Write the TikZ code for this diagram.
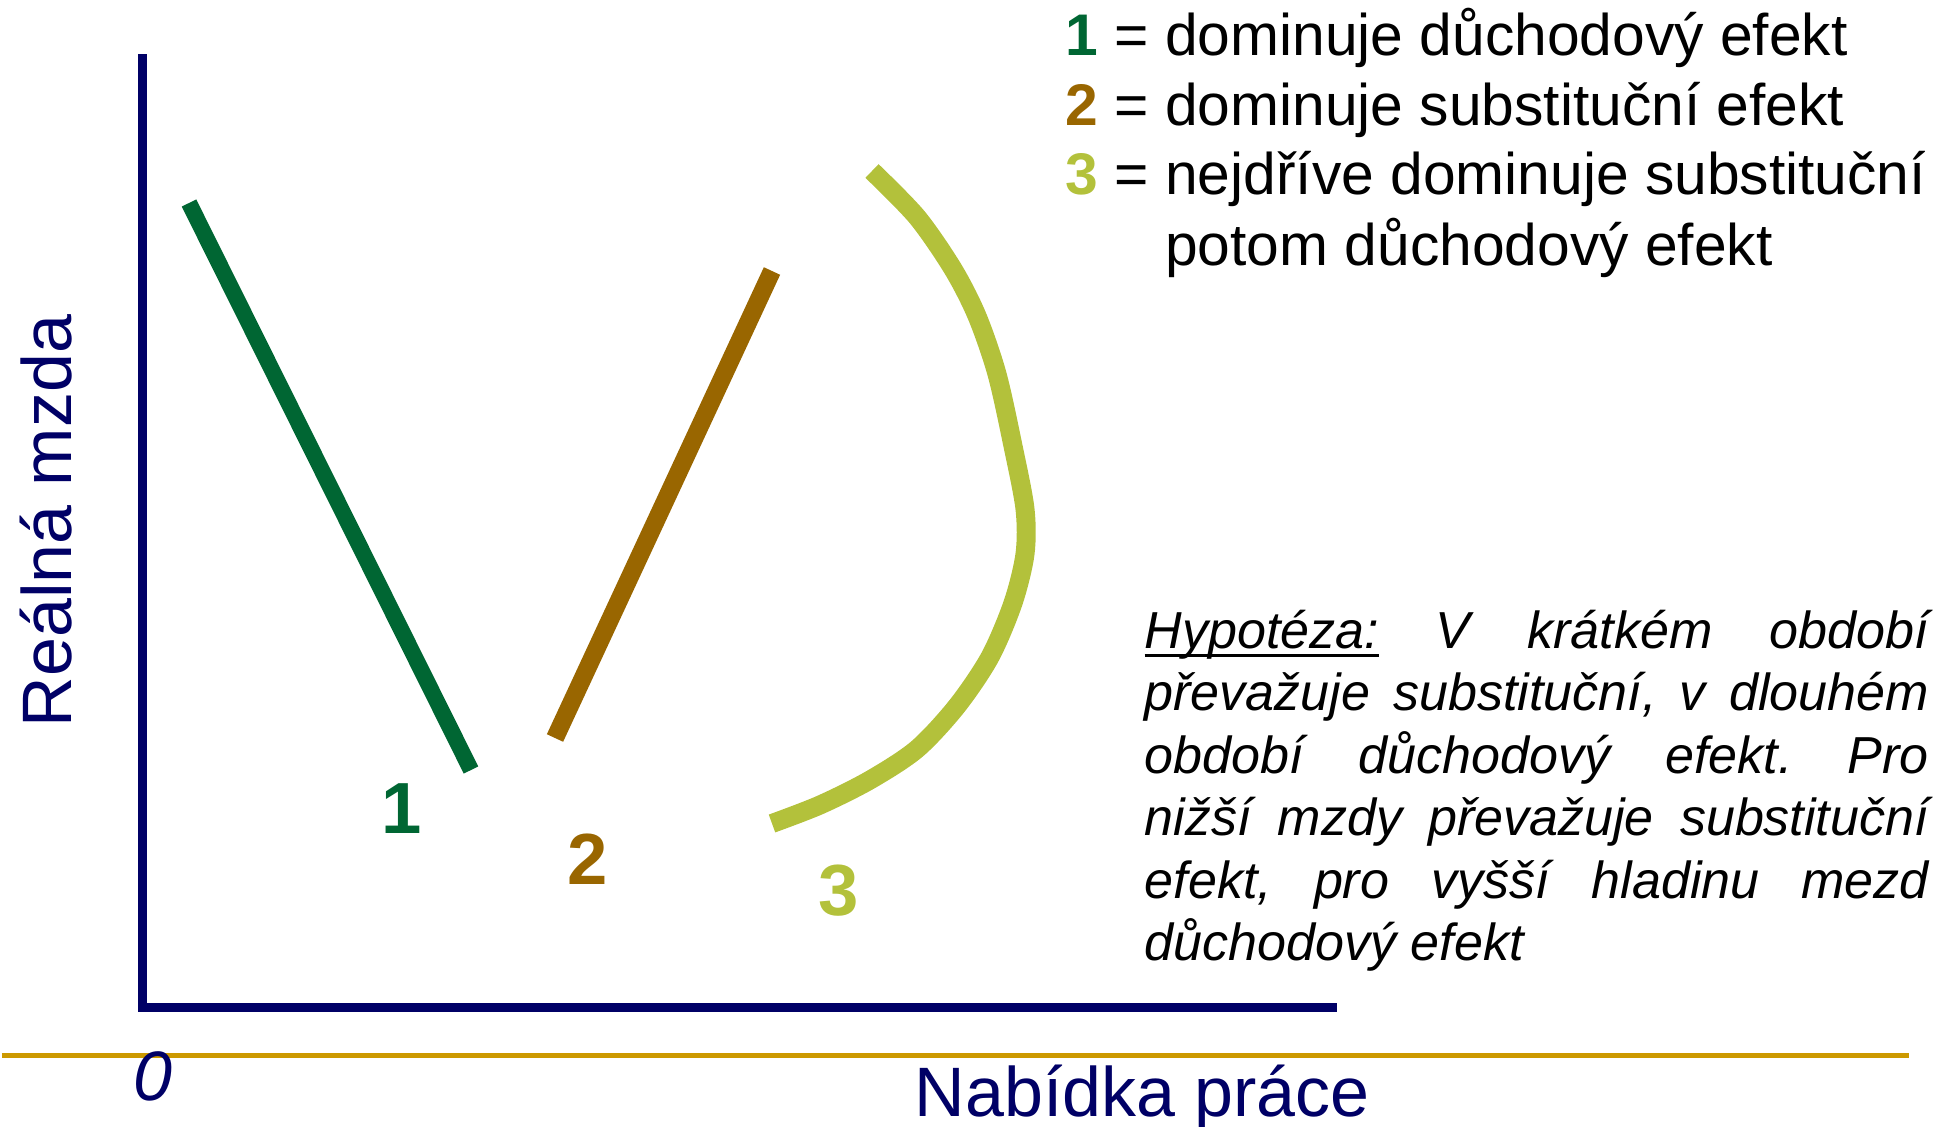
\documentclass[tikz,border=0pt]{standalone}
\usepackage{fontspec}
\setmainfont{Liberation Sans}
\definecolor{AxisNavy}{HTML}{000066}
\definecolor{IncomeGreen}{HTML}{006633}
\definecolor{SubstBrown}{HTML}{996600}
\definecolor{MixedLime}{HTML}{B3C13B}
\definecolor{RuleGold}{HTML}{CC9900}
\usepackage{tikz}
\usetikzlibrary{positioning}
\newcommand{\ulword}[1]{\leavevmode\setbox0\hbox{#1}\rlap{\rule[-2.6pt]{\wd0}{0.9pt}}\box0\relax}
\tikzset{
  axisline/.style={line width=2.56pt, AxisNavy},
  goldrule/.style={line width=1.42pt, RuleGold},
  supplyline/.style={line width=#1},
  axislabel/.style={inner sep=0pt, text=AxisNavy, font=\fontsize{19.9pt}{23pt}\selectfont},
  curvenum/.style={inner sep=0pt, font=\fontsize{20.6pt}{24pt}\selectfont\bfseries},
  legendline/.style={inner sep=0pt, anchor=base west, font=\fontsize{16.7pt}{19.9pt}\selectfont}
}

\begin{document}
\begin{tikzpicture}[x=0.01cm, y=-0.01cm]
  \useasboundingbox (0,0) rectangle (1959,1127);
  % axes and the rule under them
  \coordinate (ytop) at (142.5,54);
  \coordinate (origin) at (142.5,1007.5);
  \coordinate (xend) at (1337,1007.5);
  \draw[axisline] (ytop) -- (origin) -- (xend);
  \coordinate (ruleL) at (2,1055);
  \coordinate (ruleR) at (1909,1055);
  \draw[goldrule] (ruleL) -- (ruleR);

  \node[axislabel, rotate=90, anchor=base] (wage) at (71,521) {Reálná mzda};
  \node[axislabel, anchor=base west] (labour) at (914,1116) {Nabídka práce};
  \node[axislabel, font=\fontsize{19.9pt}{23pt}\selectfont\itshape] (zero) at (153,1076) {0};

  % the three supply curves
  \coordinate (c1top) at (189,203);
  \coordinate (c1bot) at (471,770);
  \draw[supplyline=4.6pt, IncomeGreen] (c1top) -- (c1bot);
  \coordinate (c2top) at (772,271);
  \coordinate (c2bot) at (555,738);
  \draw[supplyline=5.1pt, SubstBrown] (c2bot) -- (c2top);
  \draw[supplyline=5.4pt, MixedLime] plot[smooth, tension=0.5] coordinates {(872,171) (917,217) (953,269) (977,316) (997,374) (1013,446) (1025,509) (1025,554) (1013,603) (990,657) (957,706) (917,749) (870,780) (820,805) (772,823.5)};

  \node[curvenum, text=IncomeGreen] (num1) at (402,809) {1};
  \node[curvenum, text=SubstBrown] (num2) at (588,859) {2};
  \node[curvenum, text=MixedLime] (num3) at (839,891) {3};

  % legend
  \node[legendline] (leg1) at (1065,55) {\textbf{\color{IncomeGreen}1} = dominuje důchodový efekt};
  \node[legendline] (leg2) at (1065,125) {\textbf{\color{SubstBrown}2} = dominuje substituční efekt};
  \node[legendline] (leg3) at (1065,195) {\textbf{\color{MixedLime}3} = nejdříve dominuje substituční};
  \node[legendline] (leg4) at (1065,265) {\phantom{\textbf{3} = }potom důchodový efekt};

  \node[inner sep=0pt, anchor=base west] (hypo) at (1144,648) {\parbox[t]{223pt}{\fontsize{14.8pt}{17.8pt}\selectfont\itshape\frenchspacing
    \tolerance=10000\hyphenpenalty=10000\parfillskip=0pt plus 1fil
    \ulword{Hypotéza:} V krátkém období\linebreak
    převažuje substituční, v dlouhém\linebreak
    období důchodový efekt. Pro\linebreak
    nižší mzdy převažuje substituční\linebreak
    efekt, pro vyšší hladinu mezd\linebreak
    důchodový efekt}};
\end{tikzpicture}
\end{document}
